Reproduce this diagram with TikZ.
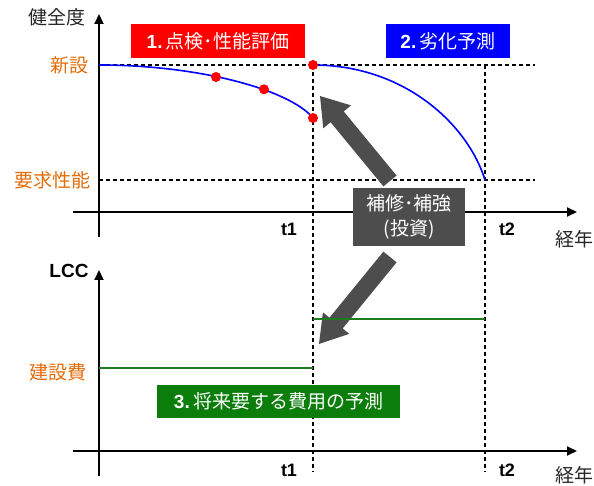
\documentclass[tikz,border=0pt]{standalone}
\usepackage{fontspec}
\setmainfont{Liberation Sans}
\newfontfamily\jp{Noto Sans CJK JP}
\usetikzlibrary{calc,arrows.meta}
\definecolor{tagred}{HTML}{FF0000}
\definecolor{tagblue}{HTML}{0000FF}
\definecolor{taggreen}{HTML}{0A7D0A}
\definecolor{costgreen}{HTML}{1E7B1E}
\definecolor{darkbox}{HTML}{4D4D4D}
\definecolor{labelorange}{HTML}{E46C0A}
\begin{document}
\begin{tikzpicture}[x=1pt,y=-1pt,
  axis/.style={line width=2pt,-{Triangle[length=10pt,width=9pt]}},
  guide/.style={line width=1.4pt,dash pattern=on 4pt off 3pt},
  curve/.style={draw=blue,line width=1.6pt},
  dot/.style={circle,fill=red,inner sep=0pt,minimum size=10pt},
  tag/.style={text=white,font=\fontsize{19}{24}\selectfont,inner sep=0pt,minimum height=34pt},
  jplab/.style={font=\jp\fontsize{19}{22}\selectfont,text=black!85},
  orangelab/.style={font=\jp\fontsize{19}{22}\selectfont,text=labelorange},
  ticklab/.style={font=\bfseries\fontsize{18}{20}\selectfont},
  cost/.style={draw=costgreen,line width=2pt}]
\useasboundingbox (0,0) rectangle (594,486);

% coordinates
\coordinate (new-l) at (99,65);
\coordinate (new-r) at (535,65);
\coordinate (req-l) at (99,180);
\coordinate (req-r) at (535,180);
\coordinate (t1-top) at (313,65);
\coordinate (t1-bot) at (313,472);
\coordinate (t2-top) at (485,65);
\coordinate (t2-bot) at (485,472);

% guides
\draw[guide] (new-l) -- (new-r);
\draw[guide] (req-l) -- (req-r);
\draw[guide] (t1-top) -- (t1-bot);
\draw[guide] (t2-top) -- (t2-bot);

% axes
\coordinate (y1-s) at (99,237); \coordinate (y1-e) at (99,14);
\coordinate (x1-s) at (73,212); \coordinate (x1-e) at (577,212);
\coordinate (y2-s) at (99,476); \coordinate (y2-e) at (99,270);
\coordinate (x2-s) at (73,451); \coordinate (x2-e) at (577,451);
\draw[axis] (y1-s) -- (y1-e);
\draw[axis] (x1-s) -- (x1-e);
\draw[axis] (y2-s) -- (y2-e);
\draw[axis] (x2-s) -- (x2-e);

% curves
\coordinate (c1-end) at (313,118);
\coordinate (c2-end) at (485,180);
\draw[curve] (new-l) .. controls (200,65) and (290,90) .. (c1-end);
\draw[curve] (t1-top) .. controls (405,65) and (468,125) .. (c2-end);

\node[dot] (d1) at (216,77) {};
\node[dot] (d2) at (264,89.3) {};
\node[dot] (d3) at (c1-end) {};
\node[dot] (d4) at (t1-top) {};

% block arrows
\coordinate (up-tail) at (390,181);
\coordinate (up-tip) at (320,96);
\coordinate (up-head) at ($(up-tip)!27pt!(up-tail)$);
\fill[darkbox] ($(up-tail)!8.5pt!90:(up-tip)$) -- ($(up-head)!8.5pt!90:(up-tip)$) -- ($(up-head)!18pt!90:(up-tip)$) -- (up-tip) -- ($(up-head)!18pt!-90:(up-tip)$) -- ($(up-head)!8.5pt!-90:(up-tip)$) -- ($(up-tail)!8.5pt!-90:(up-tip)$) -- cycle;

\coordinate (dn-tail) at (390,257);
\coordinate (dn-tip) at (319,344);
\coordinate (dn-head) at ($(dn-tip)!27pt!(dn-tail)$);
\fill[darkbox] ($(dn-tail)!8.5pt!90:(dn-tip)$) -- ($(dn-head)!8.5pt!90:(dn-tip)$) -- ($(dn-head)!17pt!90:(dn-tip)$) -- (dn-tip) -- ($(dn-head)!17pt!-90:(dn-tip)$) -- ($(dn-head)!8.5pt!-90:(dn-tip)$) -- ($(dn-tail)!8.5pt!-90:(dn-tip)$) -- cycle;

% cost lines
\coordinate (c1-l) at (99,368); \coordinate (c1-r) at (313,368);
\coordinate (c2-l) at (313,319); \coordinate (c2-r) at (485,319);
\draw[cost] (c1-l) -- (c1-r);
\draw[cost] (c2-l) -- (c2-r);

% tags
\node[tag,fill=tagred,minimum width=174pt] (tag1) at (218,41) {\textbf{1.}\,{\jp 点検･性能評価}};
\node[tag,fill=tagblue,minimum width=124pt] (tag2) at (448,41) {\textbf{2.}\,{\jp 劣化予測}};
\node[tag,fill=taggreen,minimum width=243pt,minimum height=33pt] (tag3) at (278.5,401.5) {\textbf{3.}\,{\jp 将来要する費用の予測}};
\node[fill=darkbox,text=white,font=\jp\fontsize{19}{25}\selectfont,align=center,minimum width=112pt,minimum height=58pt,inner sep=0pt] (repair) at (409,217) {補修･補強\\(投資)};

% labels
\node[jplab] (lh) at (57,17) {健全度};
\node[orangelab] (lnew) at (69,65) {新設};
\node[orangelab] (lreq) at (52,180) {要求性能};
\node[ticklab] (t1a) at (289,229) {t1};
\node[ticklab] (t2a) at (507,229) {t2};
\node[jplab] (ly1) at (574,239) {経年};
\node[font=\bfseries\fontsize{19}{22}\selectfont] (llcc) at (69,271) {LCC};
\node[orangelab] (lcost) at (58,372) {建設費};
\node[ticklab] (t1b) at (289,470) {t1};
\node[ticklab] (t2b) at (507,470) {t2};
\node[jplab] (ly2) at (574,475) {経年};
\end{tikzpicture}
\end{document}
